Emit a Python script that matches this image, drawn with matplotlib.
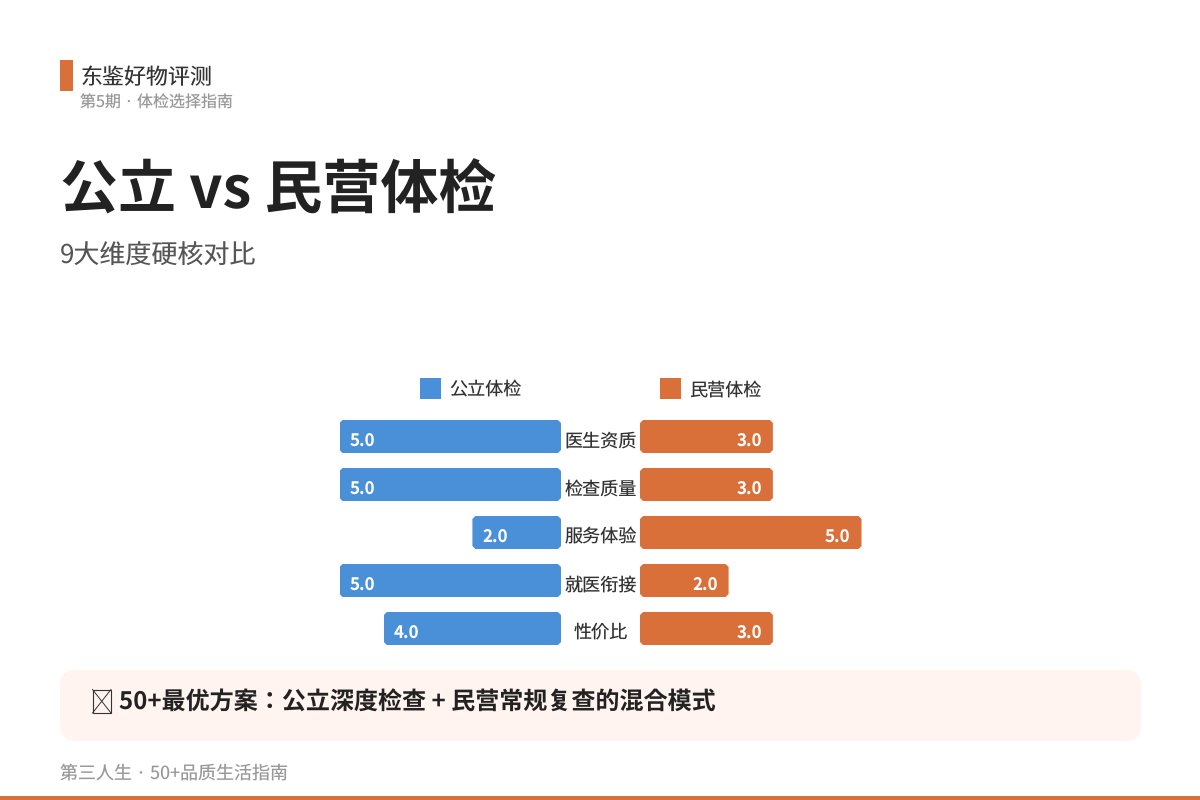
import matplotlib
matplotlib.use("Agg")
import matplotlib.pyplot as plt
from matplotlib.patches import Rectangle, FancyBboxPatch, Polygon

plt.rcParams['font.family'] = ['Noto Sans CJK JP', 'DejaVu Sans']
plt.rcParams['text.hinting'] = 'no_hinting'

categories = ["医生资质", "检查质量", "服务体验", "就医衔接", "性价比"]
public_scores = [5.0, 5.0, 2.0, 5.0, 4.0]
private_scores = [3.0, 3.0, 5.0, 2.0, 3.0]
public_name = "公立体检"
private_name = "民营体检"
BLUE = "#4A90D9"
ORANGE = "#D9703A"
PX = 0.72  # points per pixel at dpi 100

fig = plt.figure(figsize=(12, 8), dpi=100, facecolor="white")

bg = fig.add_axes([0, 0, 1, 1])
bg.set_xlim(0, 1200)
bg.set_ylim(800, 0)
bg.axis("off")


def label(x, y, s, size, color, weight="normal", ha="left"):
    bg.text(x, y, s, fontsize=size * PX, color=color, fontweight=weight,
            ha=ha, va="baseline")


# header
bg.add_patch(Rectangle((60, 60), 13, 31, color=ORANGE, lw=0))
label(80.5, 84.5, "东鉴好物评测", 22, "#333333")
label(80.5, 108, "第5期 · 体检选择指南", 16, "#999999")
label(60, 208.5, "公立 vs 民营体检", 58, "#222222", "bold")
label(60, 264, "9大维度硬核对比", 26, "#555555")

# legend
bg.add_patch(Rectangle((420, 378), 21, 21, color=BLUE, lw=0))
label(449.5, 395.5, public_name, 18.1, "#333333")
bg.add_patch(Rectangle((660, 378), 21, 21, color=ORANGE, lw=0))
label(689.5, 395.5, private_name, 18.1, "#333333")

# callout
bg.add_patch(FancyBboxPatch((60, 670), 1081, 71, color="#FFF4EF", lw=0,
                            boxstyle="round,pad=0,rounding_size=16"))
# the reference's emoji has no glyph in any installed family: its empty box, as a shape
bg.add_patch(Rectangle((92.5, 689.5), 18.5, 23.5, fill=False, ec="#333333", lw=0.8))
bg.plot([92.5, 111], [689.5, 713], color="#333333", lw=0.7)
bg.plot([92.5, 111], [713, 689.5], color="#333333", lw=0.7)
label(119, 710, "50+最优方案：公立深度检查 + 民营常规复查的混合模式", 24.05, "#222222", "bold")

# footer
label(60, 779, "第三人生 · 50+品质生活指南", 18, "#999999")
bg.add_patch(Rectangle((0, 796), 1200, 4, color=ORANGE, lw=0))


def panel(left, scores, color, inverted):
    ax = fig.add_axes([left / 1200, (800 - 652.5) / 800, 221.5 / 1200, 240 / 800])
    ax.patch.set_alpha(0)
    ax.set_xlim(5, 0) if inverted else ax.set_xlim(0, 5)
    ax.set_ylim(4.5, -0.5)
    ax.axis("off")
    bar_h = 33 / 48
    x_unit = 221.5 / 5
    dx, dy = 3 / x_unit, 3 / 48
    bars = ax.barh(range(len(scores)), scores, height=bar_h, color=color, lw=0)
    for i, (rect, v) in enumerate(zip(bars, scores)):
        top, bot = i - bar_h / 2, i + bar_h / 2
        clip = Polygon([(dx, top), (v - dx, top), (v, top + dy), (v, bot - dy),
                        (v - dx, bot), (dx, bot), (0, bot - dy), (0, top + dy)],
                       closed=True, transform=ax.transData)
        rect.set_clip_path(clip)
        ax.annotate(f"{v:.1f}", (v, i), xytext=(10 * PX if inverted else -11 * PX, -9.5 * PX),
                    textcoords="offset points", fontsize=17 * PX, fontweight="bold",
                    color="white", ha="left" if inverted else "right", va="baseline")
    return ax


ax_left = panel(339.5, public_scores, BLUE, True)
ax_right = panel(640, private_scores, ORANGE, False)

for i, c in enumerate(categories):
    ax_left.annotate(c, (0, i), xytext=(39.5 * PX, -10 * PX), textcoords="offset points",
                     fontsize=18.1 * PX, color="#333333", ha="center", va="baseline",
                     annotation_clip=False)

fig.savefig("out.png", dpi=100, facecolor="white")
